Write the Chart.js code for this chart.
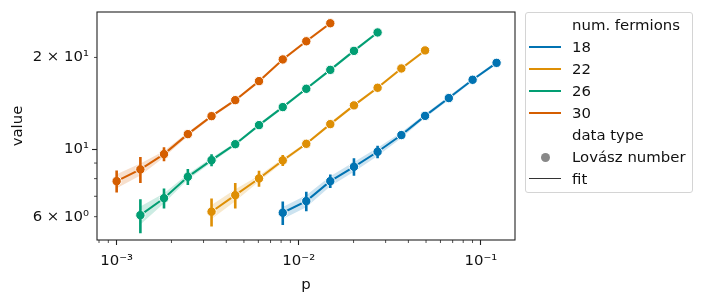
<!DOCTYPE html>
<html>
<head>
<meta charset="utf-8">
<script src="https://cdn.jsdelivr.net/npm/chart.js@4.4.1/dist/chart.umd.min.js"></script>
<style>
  body { margin: 0; background: #fff; font-family: "DejaVu Sans", sans-serif; }
  #wrap { position: relative; width: 705px; height: 305px; }
  #legend {
    position: absolute; left: 525px; top: 12px; width: 168px; height: 181px;
    border: 1px solid #d4d4d4; border-radius: 3px; box-sizing: border-box;
    font-size: 14.9px; color: #111; background: rgba(255,255,255,0.8);
  }
  .row { position: absolute; left: 0; width: 100%; height: 22px; line-height: 22px; }
  .row span.t { position: absolute; left: 46px; white-space: nowrap; }
  .row .h { position: absolute; left: 3px; width: 32px; top: 10px; }
  .row .dot { position: absolute; left: 15px; top: 7px; width: 9px; height: 9px; border-radius: 50%; }
</style>
</head>
<body>
<div id="wrap">
  <canvas id="chart" width="705" height="305"></canvas>
  <div id="legend"></div>
</div>
<script>
// series: num. fermions
const fermions = ["18", "22", "26", "30"];
const colors = ["#0173b2", "#de8f05", "#029e73", "#d55e00"];

const p18 = [0.00817, 0.0110, 0.0149, 0.0201, 0.0271, 0.0366, 0.0494, 0.0667, 0.0901, 0.122];
const v18 = [6.18, 6.75, 7.85, 8.75, 9.80, 11.12, 12.86, 14.71, 16.89, 19.20];
const err18 = [0.55, 0.50, 0.40, 0.58, 0.46, 0.17, 0.19, 0.22, 0.26, 0.29];
const band18 = [0.28, 0.31, 0.30, 0.33, 0.30, 0.25, 0.19, 0.22, 0.19, 0.22];

const p22 = [0.00332, 0.00448, 0.00605, 0.00817, 0.0110, 0.0149, 0.0201, 0.0271, 0.0366, 0.0494];
const v22 = [6.23, 7.06, 8.01, 9.18, 10.41, 12.08, 13.92, 15.90, 18.40, 21.09];
const err22 = [0.66, 0.68, 0.48, 0.38, 0.16, 0.18, 0.21, 0.24, 0.28, 0.32];
const band22 = [0.33, 0.32, 0.18, 0.14, 0.12, 0.14, 0.16, 0.18, 0.21, 0.24];

const p26 = [0.00135, 0.00182, 0.00246, 0.00332, 0.00448, 0.00605, 0.00817, 0.0110, 0.0149, 0.0201, 0.0271];
const v26 = [6.07, 6.90, 8.11, 9.20, 10.38, 11.99, 13.74, 15.78, 18.21, 21.02, 24.16];
const err26 = [0.78, 0.52, 0.49, 0.42, 0.24, 0.18, 0.21, 0.24, 0.28, 0.32, 0.37];
const band26 = [0.41, 0.26, 0.18, 0.17, 0.12, 0.14, 0.16, 0.18, 0.21, 0.24, 0.27];

const p30 = [0.00100, 0.00135, 0.00182, 0.00246, 0.00332, 0.00448, 0.00605, 0.00817, 0.0110, 0.0149];
const v30 = [7.85, 8.58, 9.63, 11.2, 12.83, 14.48, 16.72, 19.7, 22.6, 25.9];
const err30 = [0.65, 0.84, 0.51, 0.25, 0.19, 0.22, 0.25, 0.30, 0.34, 0.39];
const band30 = [0.415, 0.39, 0.22, 0.17, 0.145, 0.16, 0.19, 0.22, 0.26, 0.29];

// ticks
const xMajorTicks = [0.001, 0.01, 0.1];
const xMajorLabels = ["10\u207B\u00B3", "10\u207B\u00B2", "10\u207B\u00B9"];
const xMinorTicks = [0.0008, 0.0009, 0.002, 0.003, 0.004, 0.005, 0.006, 0.007, 0.008, 0.009,
  0.02, 0.03, 0.04, 0.05, 0.06, 0.07, 0.08, 0.09];
const yMajorTicks = [10];
const yMinorTicks = [6, 7, 8, 9, 20];
const yLabelTicks = [6, 10, 20];
const yLabels = ["6 \u00D7 10\u2070", "10\u00B9", "2 \u00D7 10\u00B9"];

const series = [
  { p: p18, v: v18, err: err18, band: band18 },
  { p: p22, v: v22, err: err22, band: band22 },
  { p: p26, v: v26, err: err26, band: band26 },
  { p: p30, v: v30, err: err30, band: band30 },
];

function alpha(hex, a) {
  const n = parseInt(hex.slice(1), 16);
  return "rgba(" + (n >> 16) + "," + ((n >> 8) & 255) + "," + (n & 255) + "," + a + ")";
}

const datasets = [];
series.forEach((s, k) => {
  const c = colors[k];
  datasets.push({
    data: s.p.map((x, i) => ({ x: x, y: s.v[i] + s.band[i] })),
    showLine: true, pointRadius: 0, borderWidth: 0, fill: "+1",
    backgroundColor: alpha(c, 0.2), order: 3,
  });
  datasets.push({
    data: s.p.map((x, i) => ({ x: x, y: s.v[i] - s.band[i] })),
    showLine: true, pointRadius: 0, borderWidth: 0, fill: false, order: 3,
  });
  datasets.push({
    data: s.p.map((x, i) => ({ x: x, y: s.v[i] })),
    showLine: true, pointRadius: 0, borderColor: c, borderWidth: 2, fill: false, order: 2,
  });
  datasets.push({
    data: s.p.map((x, i) => ({ x: x, y: s.v[i] })),
    showLine: false, pointRadius: 4.7, backgroundColor: c,
    borderColor: "#fff", borderWidth: 1, order: 1,
  });
  // error bars drawn over the markers
  const bars = [];
  s.p.forEach((x, i) => {
    bars.push({ x: x, y: s.v[i] - s.err[i] }, { x: x, y: s.v[i] + s.err[i] }, { x: x, y: null });
  });
  datasets.push({
    data: bars, showLine: true, spanGaps: false, pointRadius: 0,
    borderColor: c, borderWidth: 2.6, fill: false, order: 0,
  });
});

function setTicks(major, minor) {
  return function (scale) {
    const t = major.map((v) => ({ value: v, major: true }))
      .concat(minor.map((v) => ({ value: v, major: false })));
    t.sort((a, b) => a.value - b.value);
    scale.ticks = t;
  };
}

// frame + short minor ticks
const framePlugin = {
  id: "frame",
  afterDraw(chart) {
    const { ctx, chartArea: a, scales } = chart;
    ctx.save();
    ctx.strokeStyle = "#222";
    ctx.lineWidth = 0.8;
    ctx.beginPath();
    scales.x.ticks.forEach((t) => {
      if (t.major) return;
      const px = scales.x.getPixelForValue(t.value);
      ctx.moveTo(px, a.bottom);
      ctx.lineTo(px, a.bottom + 3);
    });
    scales.y.ticks.forEach((t) => {
      if (t.major) return;
      const py = scales.y.getPixelForValue(t.value);
      ctx.moveTo(a.left, py);
      ctx.lineTo(a.left - 3, py);
    });
    ctx.stroke();
    ctx.lineWidth = 1.1;
    ctx.strokeRect(a.left, a.top, a.right - a.left, a.bottom - a.top);
    ctx.restore();
  },
};

Chart.defaults.font.family = "'DejaVu Sans', sans-serif";
Chart.defaults.font.size = 14.9;
Chart.defaults.color = "#111";

new Chart(document.getElementById("chart"), {
  type: "scatter",
  data: { datasets: datasets },
  options: {
    responsive: false,
    animation: false,
    events: [],
    layout: { padding: { left: 0, right: 190, top: 12, bottom: 0 } },
    plugins: { legend: { display: false }, tooltip: { enabled: false } },
    scales: {
      x: {
        type: "logarithmic",
        min: 0.00078,
        max: 0.154,
        afterBuildTicks: setTicks(xMajorTicks, xMinorTicks),
        afterFit(scale) { scale.height = 65; },
        border: { display: false },
        grid: {
          drawOnChartArea: false, tickLength: 5, tickWidth: 1.1,
          tickColor: (c) => (c.tick && c.tick.major ? "#222" : "rgba(0,0,0,0)"),
        },
        ticks: {
          autoSkip: false, maxRotation: 0, padding: 7,
          callback: (v) => { const i = xMajorTicks.indexOf(v); return i >= 0 ? xMajorLabels[i] : ""; },
        },
        title: { display: true, text: "p", padding: { top: 0, bottom: 11 } },
      },
      y: {
        type: "logarithmic",
        min: 5.03,
        max: 28.2,
        afterBuildTicks: setTicks(yMajorTicks, yMinorTicks),
        afterFit(scale) { scale.width = 97; },
        border: { display: false },
        grid: {
          drawOnChartArea: false, tickLength: 5, tickWidth: 1.1,
          tickColor: (c) => (c.tick && c.tick.major ? "#222" : "rgba(0,0,0,0)"),
        },
        ticks: {
          autoSkip: false, padding: 3,
          callback: (v) => { const i = yLabelTicks.indexOf(v); return i >= 0 ? yLabels[i] : ""; },
        },
        title: { display: true, text: "value", padding: { top: 9, bottom: 0 } },
      },
    },
  },
  plugins: [framePlugin],
});

// legend
const legendRows = [{ text: "num. fermions" }]
  .concat(fermions.map((f, i) => ({ text: f, line: colors[i], w: 2.1 })))
  .concat([{ text: "data type" }, { text: "Lovász number", dot: "#888" }, { text: "fit", line: "#333", w: 1.5 }]);
const leg = document.getElementById("legend");
legendRows.forEach((r, i) => {
  const row = document.createElement("div");
  row.className = "row";
  row.style.top = (0.5 + 22 * i) + "px";
  if (r.line) {
    const h = document.createElement("div");
    h.className = "h";
    h.style.borderTop = r.w + "px solid " + r.line;
    row.appendChild(h);
  }
  if (r.dot) {
    const d = document.createElement("div");
    d.className = "dot";
    d.style.background = r.dot;
    row.appendChild(d);
  }
  const t = document.createElement("span");
  t.className = "t";
  t.textContent = r.text;
  row.appendChild(t);
  leg.appendChild(row);
});
</script>
</body>
</html>
